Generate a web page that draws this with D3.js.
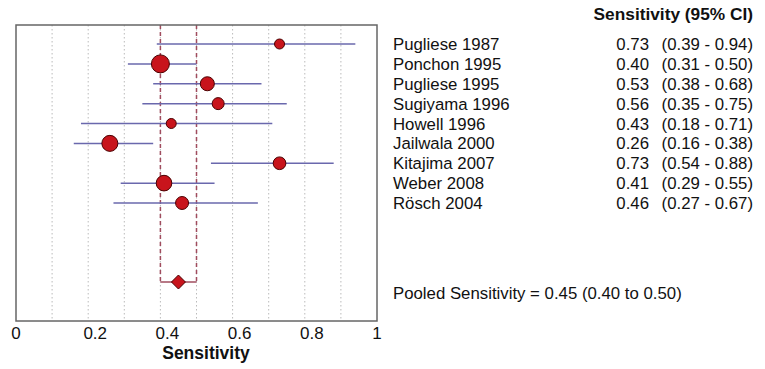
<!DOCTYPE html>
<html>
  <head>
    <meta charset="utf-8">
    <title></title>
    <style>
      body { margin: 0; background: #fff; }
      text { font-family: "Liberation Sans", Arial, sans-serif; fill: #111; }
    </style>
  </head>
  <body>
    <div id="chart"></div>
    <script src="https://d3js.org/d3.v7.min.js"></script>
    <script>

      // study data
      const studies = ['Pugliese 1987', 'Ponchon 1995', 'Pugliese 1995', 'Sugiyama 1996', 'Howell 1996',
                       'Jailwala 2000', 'Kitajima 2007', 'Weber 2008', 'Rösch 2004'];
      const sens = [0.73, 0.40, 0.53, 0.56, 0.43, 0.26, 0.73, 0.41, 0.46];
      const lower = [0.39, 0.31, 0.38, 0.35, 0.18, 0.16, 0.54, 0.29, 0.27];
      const upper = [0.94, 0.50, 0.68, 0.75, 0.71, 0.38, 0.88, 0.55, 0.67];
      const weights = [5.9, 19.1, 11.6, 8.5, 5.9, 15.1, 9.5, 14.4, 9.9]; // % weight, drives marker size

      const pooled = 0.45;
      const pooledLow = 0.40;
      const pooledHigh = 0.50;

      const xTicks = [0, 0.2, 0.4, 0.6, 0.8, 1];
      const gridVals = [0.1, 0.2, 0.3, 0.4, 0.5, 0.6, 0.7, 0.8, 0.9];

      const width = 765;
      const height = 369;

      const svg = d3.select('#chart')
                    .append('svg')
                    .attr('width', width)
                    .attr('height', height)

      const box = {left: 16, right: 377, top: 25, bottom: 321};

      const x = d3.scaleLinear().domain([0, 1]).range([box.left, box.right]);
      const y = d3.scaleLinear().domain([0, studies.length - 1]).range([44, 203]);
      const pooledY = 282;
      const r = d3.scaleSqrt().domain([0, d3.max(weights)]).range([0, 9]);

      // dotted grid
      svg.append('g').selectAll('line').data(gridVals).enter()
        .append('line')
        .attr('x1', d => x(d)).attr('x2', d => x(d))
        .attr('y1', box.top).attr('y2', box.bottom)
        .attr('stroke', '#bbb')
        .attr('stroke-width', 1)
        .attr('stroke-dasharray', '1.5,2.5')

      // pooled CI dashed lines
      const pc = '#a04c5e';
      svg.append('g').selectAll('line').data([pooledLow, pooledHigh]).enter()
        .append('line')
        .attr('x1', d => x(d)).attr('x2', d => x(d))
        .attr('y1', box.top).attr('y2', pooledY)
        .attr('stroke', pc)
        .attr('stroke-width', 1.5)
        .attr('stroke-dasharray', '4,3')
      svg.append('line')
        .attr('x1', x(pooledLow)).attr('x2', x(pooledHigh))
        .attr('y1', pooledY).attr('y2', pooledY)
        .attr('stroke', pc)
        .attr('stroke-width', 1.5)

      // frame
      svg.append('rect')
        .attr('x', box.left).attr('y', box.top)
        .attr('width', box.right - box.left).attr('height', box.bottom - box.top)
        .attr('fill', 'none')
        .attr('stroke', '#666')
        .attr('stroke-width', 1.5)

      // CI lines + point estimates
      const rows = svg.append('g').selectAll('g').data(studies).enter().append('g')
      rows.append('line')
        .attr('x1', (d, i) => x(lower[i])).attr('x2', (d, i) => x(upper[i]))
        .attr('y1', (d, i) => y(i)).attr('y2', (d, i) => y(i))
        .attr('stroke', '#6a68ad')
        .attr('stroke-width', 1.5)
      rows.append('circle')
        .attr('cx', (d, i) => x(sens[i]))
        .attr('cy', (d, i) => y(i))
        .attr('r', (d, i) => r(weights[i]))
        .attr('fill', '#c8141c')
        .attr('stroke', '#4a0000')
        .attr('stroke-width', 1)

      // pooled diamond
      const dw = 7, dh = 7;
      const px = x(pooled);
      svg.append('path')
        .attr('d', `M${px - dw},${pooledY} L${px},${pooledY - dh} L${px + dw},${pooledY} L${px},${pooledY + dh} Z`)
        .attr('fill', '#c8141c')
        .attr('stroke', '#4a0000')
        .attr('stroke-width', 1)

      // x axis labels (inner labels sit a bit right of their tick in the original)
      svg.append('g').selectAll('text').data(xTicks).enter()
        .append('text')
        .attr('x', d => x(d) + ((d > 0 && d < 1) ? 7 : 0))
        .attr('y', 339)
        .attr('text-anchor', 'middle')
        .attr('font-size', 17)
        .text(d => d3.format('~g')(d))

      svg.append('text')
        .attr('x', 206)
        .attr('y', 359)
        .attr('text-anchor', 'middle')
        .attr('font-size', 17.5)
        .attr('font-weight', 'bold')
        .text('Sensitivity')

      // table on the right
      svg.append('text')
        .attr('x', 753).attr('y', 20)
        .attr('text-anchor', 'end')
        .attr('font-size', 17.3)
        .attr('font-weight', 'bold')
        .text('Sensitivity (95% CI)')

      const fs = 16.8;
      const tbl = svg.append('g').selectAll('g').data(studies).enter().append('g')
      tbl.append('text')
        .attr('x', 393).attr('y', (d, i) => y(i) + 6)
        .attr('font-size', fs)
        .text(d => d)
      tbl.append('text')
        .attr('x', 649).attr('y', (d, i) => y(i) + 6)
        .attr('text-anchor', 'end')
        .attr('font-size', fs)
        .text((d, i) => sens[i].toFixed(2))
      tbl.append('text')
        .attr('x', 753).attr('y', (d, i) => y(i) + 6)
        .attr('text-anchor', 'end')
        .attr('font-size', fs)
        .text((d, i) => `(${lower[i].toFixed(2)} - ${upper[i].toFixed(2)})`)

      svg.append('text')
        .attr('x', 393).attr('y', 299)
        .attr('font-size', fs)
        .text(`Pooled Sensitivity = ${pooled.toFixed(2)} (${pooledLow.toFixed(2)} to ${pooledHigh.toFixed(2)})`)

    </script>
  </body>
</html>
